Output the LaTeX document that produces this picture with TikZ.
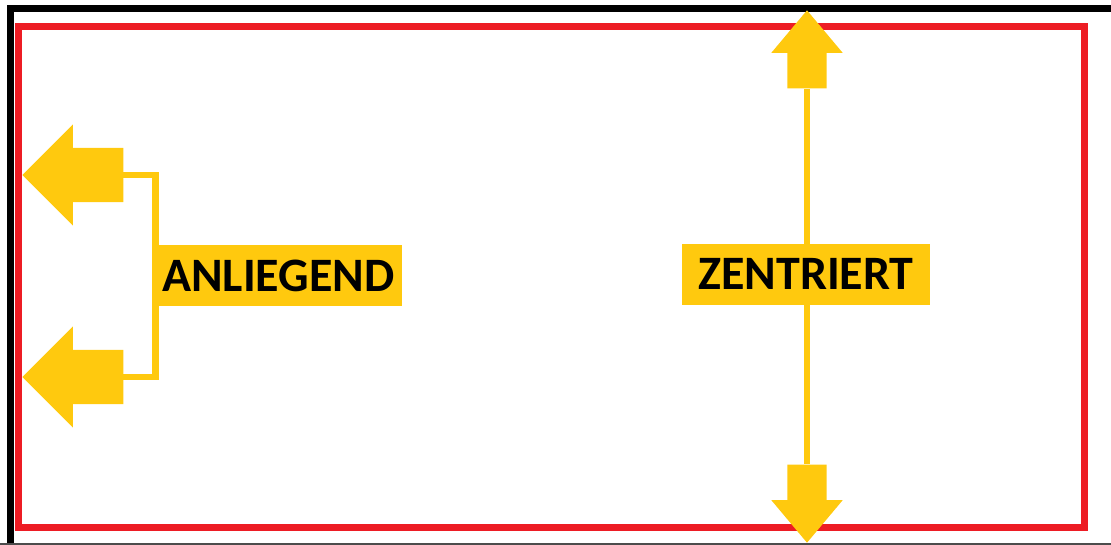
\documentclass[tikz,border=0pt]{standalone}
\usepackage{fontspec}
\setmainfont{Carlito}
\usetikzlibrary{shapes.arrows,positioning}

\definecolor{markgold}{HTML}{FFC90E}
\definecolor{framered}{HTML}{ED1C24}

\begin{document}
\begin{tikzpicture}[x=1pt,y=-1pt,
  side arrow/.style={single arrow,fill=markgold,inner xsep=0pt,inner ysep=27pt,
    minimum height=101,minimum width=101,single arrow head extend=23.5,
    single arrow tip angle=90,shape border rotate=180,anchor=tip},
  axis arrow/.style={single arrow,fill=markgold,inner ysep=0pt,inner xsep=19.5pt,
    minimum height=78,minimum width=71,single arrow head extend=16,
    single arrow tip angle=80,anchor=tip},
  tag node/.style={rectangle,fill=markgold,inner sep=0pt,
    minimum width=248,minimum height=61,
    font=\fontsize{48}{50}\selectfont\bfseries},
  link/.style={draw=markgold,line width=6.5}]

  \useasboundingbox (0,0) rectangle (1111,544);
  \clip (0,0) rectangle (1111,544);

  % frames
  \draw[line width=7] (10.5,560) -- (10.5,8.5) -- (1120,8.5);
  \draw[line width=2,black!70] (0,544) -- (1111,544);
  \draw[framered,line width=7] (18,26.5) rectangle (1084.5,527);

  % left side: anliegend
  \node[side arrow] (lt) at (22,175) {};
  \node[side arrow] (lb) at (22,377) {};
  \path[link] (lt.tail) -- ++(32,0) coordinate (bend) |- (lb.tail);
  \node[tag node,anchor=west] (anl) at (154,275.5) {ANLIEGEND};

  % middle: zentriert
  \node[axis arrow,shape border rotate=90]  (up)   at (807,10) {};
  \node[axis arrow,shape border rotate=270] (down) at (807,543) {};
  \path[link] (up.tail) -- (down.tail);
  \node[tag node] (zen) at (806,274) {ZENTRIERT};

\end{tikzpicture}
\end{document}
